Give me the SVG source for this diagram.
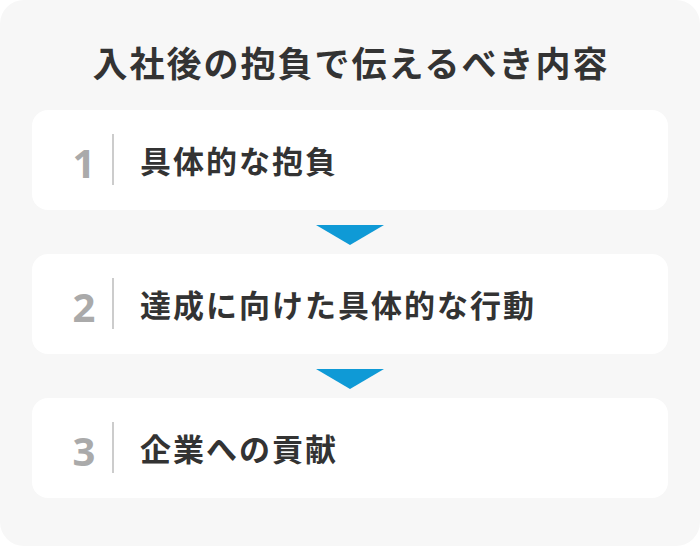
<svg xmlns="http://www.w3.org/2000/svg" width="700" height="546" viewBox="0 0 700 546">
<style>
.card{fill:#ffffff;}
.num{font-family:"Noto Sans","Liberation Sans",sans-serif;font-weight:700;font-size:40px;fill:#aaaaaa;text-anchor:middle;}
.sep{stroke:#cccccc;stroke-width:2;}
.lbl{font-family:"Noto Sans CJK JP","Noto Sans",sans-serif;font-weight:700;font-size:31px;fill:#333333;letter-spacing:2px;}
.title{font-family:"Noto Sans CJK JP","Noto Sans",sans-serif;font-weight:700;font-size:35px;fill:#333333;letter-spacing:2px;text-anchor:middle;}
.arrow{fill:#0f9ad6;}
</style>
<rect x="0" y="0" width="700" height="546" fill="#ffffff"/>
<rect x="0" y="0" width="700" height="546" rx="24" fill="#f7f7f7"/>
<text class="title" x="351" y="77">入社後の抱負で伝えるべき内容</text>
<g id="node1">
<rect class="card" x="32" y="110" width="636" height="100" rx="16"/>
<text class="num" x="84" y="178">1</text>
<line class="sep" x1="113" y1="134" x2="113" y2="185"/>
<text class="lbl" x="140" y="173">具体的な抱負</text>
</g>
<g id="node2">
<rect class="card" x="32" y="254" width="636" height="100" rx="16"/>
<text class="num" x="84" y="322">2</text>
<line class="sep" x1="113" y1="278" x2="113" y2="329"/>
<text class="lbl" x="140" y="317">達成に向けた具体的な行動</text>
</g>
<g id="node3">
<rect class="card" x="32" y="398" width="636" height="100" rx="16"/>
<text class="num" x="84" y="466">3</text>
<line class="sep" x1="113" y1="422" x2="113" y2="473"/>
<text class="lbl" x="140" y="461">企業への貢献</text>
</g>
<g id="connectors">
<polygon class="arrow" points="316,225 384,225 350,245"/>
<polygon class="arrow" points="316,369 384,369 350,389"/>
</g>
</svg>
